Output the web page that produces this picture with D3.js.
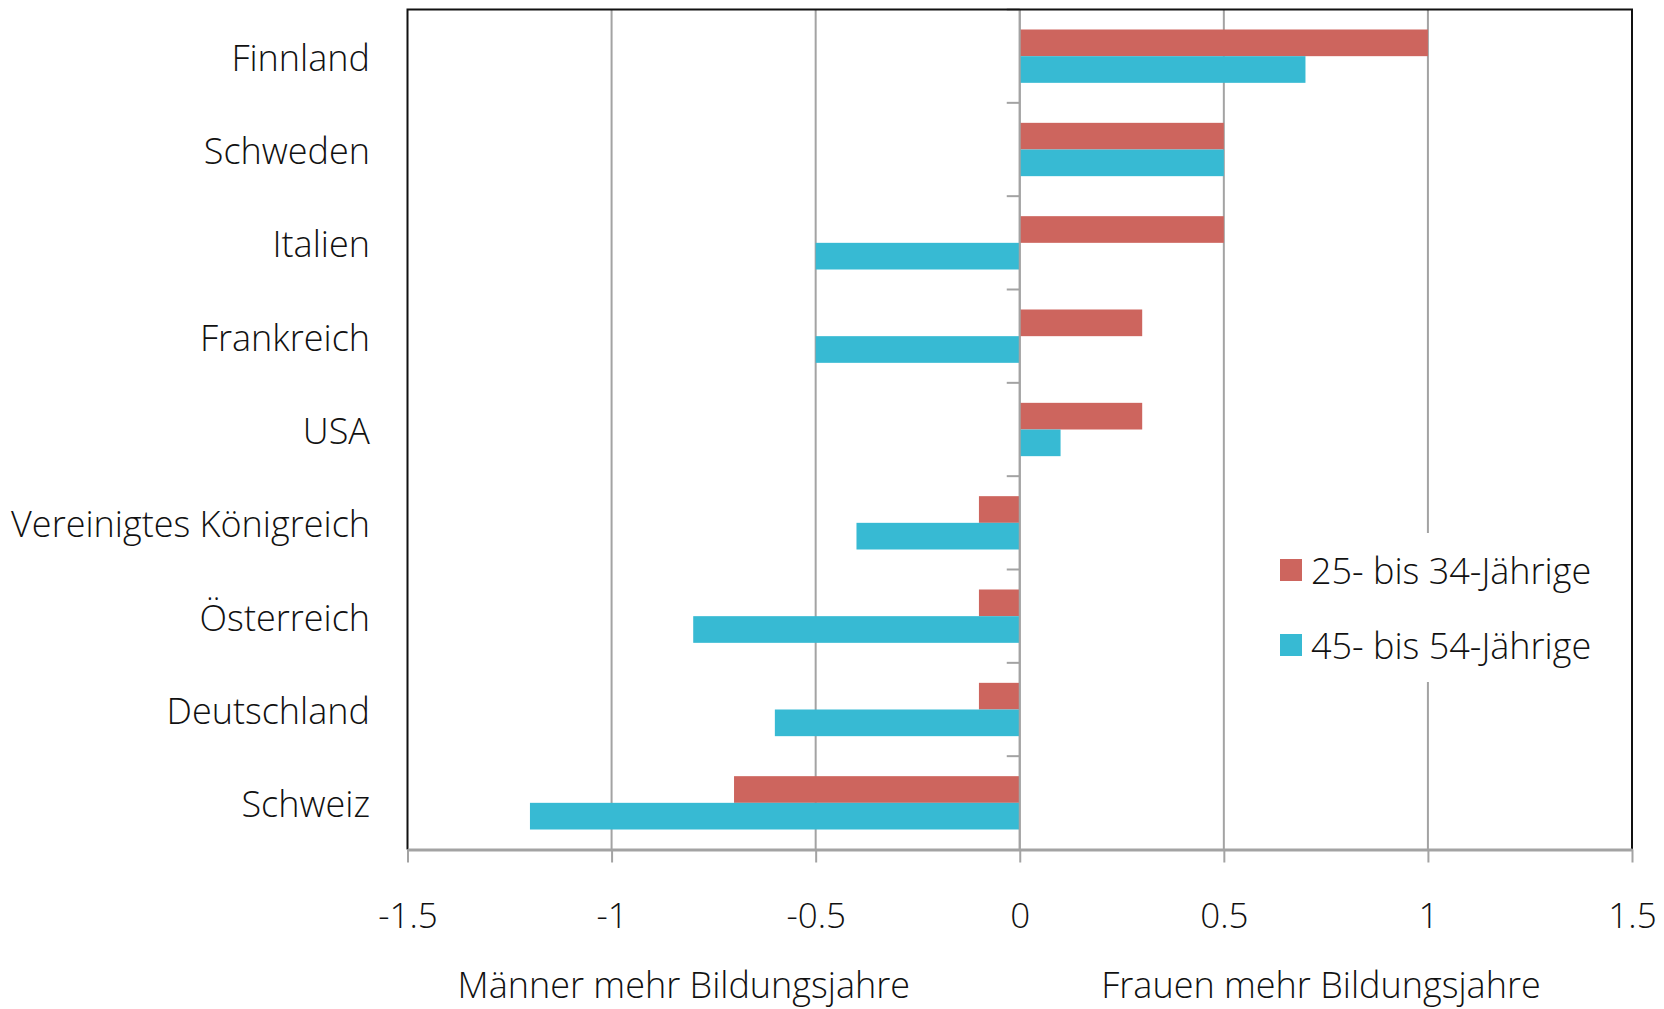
<!DOCTYPE html>
<html><head><meta charset="utf-8">
<script src="https://cdn.jsdelivr.net/npm/d3@7"></script>
<style>
html,body{margin:0;padding:0;background:#fff;}
svg{display:block;font-family:"Open Sans",sans-serif;font-weight:300;}
</style></head>
<body>
<svg id="chart" width="1664" height="1009"></svg>
<script>
const categories = ["Finnland","Schweden","Italien","Frankreich","USA","Vereinigtes Königreich","Österreich","Deutschland","Schweiz"];
const young = [1.0, 0.5, 0.5, 0.3, 0.3, -0.1, -0.1, -0.1, -0.7];   // 25- bis 34-Jährige
const older = [0.7, 0.5, -0.5, -0.5, 0.1, -0.4, -0.8, -0.6, -1.2]; // 45- bis 54-Jährige
const seriesNames = ["25- bis 34-Jährige", "45- bis 54-Jährige"];
const xTicks = [-1.5, -1, -0.5, 0, 0.5, 1, 1.5];
const xTickLabels = ["-1.5", "-1", "-0.5", "0", "0.5", "1", "1.5"];
const axisTitles = ["Männer mehr Bildungsjahre", "Frauen mehr Bildungsjahre"];

const colors = ["#CD655E", "#37BAD3"];
const svg = d3.select("#chart");
const L = 407.5, R = 1632, T = 9.5, B = 849.5;
const FS = 36;

const x = d3.scaleLinear().domain([-1.5, 1.5]).range([L, R]);
const y = d3.scaleBand().domain(categories).range([T, B]);
const bh = y.bandwidth() * 0.2857;

// gridlines
svg.append("g").selectAll("line").data(xTicks.filter(t => t !== -1.5 && t !== 1.5)).join("line")
  .attr("x1", d => x(d)).attr("x2", d => x(d)).attr("y1", T).attr("y2", B)
  .attr("stroke", "#A3A3A3").attr("stroke-width", 2);

// bars
const g = svg.append("g");
g.selectAll("rect.y").data(young).join("rect")
  .attr("x", d => x(Math.min(0, d))).attr("width", d => Math.abs(x(d) - x(0)))
  .attr("y", (d, i) => y(categories[i]) + y.bandwidth() / 2 - bh).attr("height", bh)
  .attr("fill", colors[0]);
g.selectAll("rect.o").data(older).join("rect")
  .attr("x", d => x(Math.min(0, d))).attr("width", d => Math.abs(x(d) - x(0)))
  .attr("y", (d, i) => y(categories[i]) + y.bandwidth() / 2).attr("height", bh)
  .attr("fill", colors[1]);

// zero axis with category boundary ticks
svg.append("line").attr("x1", x(0)).attr("x2", x(0)).attr("y1", T).attr("y2", B)
  .attr("stroke", "#A3A3A3").attr("stroke-width", 2);
svg.append("g").selectAll("line").data(categories).join("line")
  .attr("x1", x(0) - 13).attr("x2", x(0))
  .attr("y1", d => y(d)).attr("y2", d => y(d))
  .attr("stroke", "#A3A3A3").attr("stroke-width", 2);

// legend background
svg.append("rect").attr("x", 1265).attr("y", 533).attr("width", 360).attr("height", 149).attr("fill", "#fff");

// frame
svg.append("path").attr("d", `M${L},${B} L${L},${T} L${R},${T} L${R},${B}`)
  .attr("fill", "none").attr("stroke", "#111").attr("stroke-width", 2);

// x axis
const xAxis = d3.axisBottom(x).tickValues(xTicks).tickFormat((d, i) => xTickLabels[i]).tickSize(13).tickSizeOuter(0);
const xa = svg.append("g").attr("transform", `translate(0,${B})`).call(xAxis);
xa.select(".domain").attr("stroke", "#A3A3A3").attr("stroke-width", 3);
xa.selectAll(".tick line").attr("stroke", "#A3A3A3").attr("stroke-width", 2);
xa.selectAll(".tick text").attr("font-size", 35).attr("font-weight", 300).attr("fill", "#111").attr("font-family", "Open Sans").attr("dy", "0.35em").attr("y", 66);

// y axis labels
const yAxis = d3.axisLeft(y).tickSize(0).tickPadding(0);
const ya = svg.append("g").attr("transform", `translate(370,0)`).call(yAxis);
ya.select(".domain").remove();
ya.selectAll(".tick text").attr("font-size", FS).attr("font-weight", 300).attr("fill", "#111").attr("font-family", "Open Sans").attr("dy", "0.4em");

// axis titles
svg.append("text").attr("x", x(-0.823)).attr("y", 985).attr("dy", "0.35em").attr("text-anchor", "middle")
  .attr("font-size", FS).attr("fill", "#111").text(axisTitles[0]);
svg.append("text").attr("x", x(0.738)).attr("y", 985).attr("dy", "0.35em").attr("text-anchor", "middle")
  .attr("font-size", FS).attr("fill", "#111").text(axisTitles[1]);

// legend
const lg = svg.append("g").selectAll("g").data(seriesNames).join("g")
  .attr("transform", (d, i) => `translate(1280,${559 + i * 75})`);
lg.append("rect").attr("width", 22).attr("height", 22).attr("fill", (d, i) => colors[i]);
lg.append("text").attr("x", 31).attr("y", 11).attr("dy", "0.38em").attr("font-size", FS).attr("fill", "#111").text(d => d);
</script>
</body></html>
